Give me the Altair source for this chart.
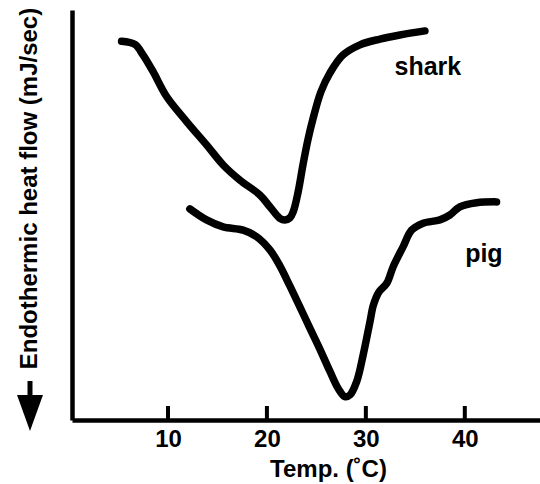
import altair as alt
import pandas as pd

# Shark DSC trace (temperature °C, relative endothermic heat flow)
shark_temp = [5.31, 6.66, 7.49, 8.51, 9.86, 11.88, 13.90, 15.58, 17.27, 19.29, 20.30,
              21.31, 21.82, 22.32, 22.66, 23.16, 23.64, 24.14, 24.65, 25.45, 26.36,
              27.68, 29.40, 31.42, 33.44, 35.97]
shark_flow = [92.4, 91.6, 89.0, 84.9, 78.9, 72.8, 67.1, 62.2, 58.5, 54.9, 52.0,
              49.2, 48.8, 49.3, 50.8, 55.7, 62.2, 68.3, 73.4, 80.0, 84.6,
              89.0, 91.5, 92.9, 93.9, 94.9]

# Pig DSC trace
pig_temp = [12.21, 13.90, 15.58, 17.60, 18.96, 20.30, 21.31, 22.32, 23.33, 24.34,
            25.35, 26.36, 27.20, 27.88, 28.39, 29.06, 29.73, 30.41, 30.76, 31.32,
            32.13, 32.76, 33.77, 34.62, 35.79, 37.48, 38.49, 39.50, 41.19, 43.21]
pig_flow = [51.5, 48.8, 47.1, 46.3, 44.7, 41.5, 37.6, 32.7, 27.6, 22.4,
            17.3, 11.9, 7.7, 5.7, 6.1, 9.3, 15.9, 23.9, 28.0, 31.2,
            33.4, 37.4, 42.3, 46.3, 48.0, 48.8, 50.0, 52.0, 53.0, 53.2]

label_names = ["shark", "pig"]
label_temp = [36.27, 41.93]
label_flow = [84.1, 38.5]

tick_values = [10, 20, 30, 40]

FONT = "Liberation Sans"

curves = pd.DataFrame({
    "temp": shark_temp + pig_temp,
    "flow": shark_flow + pig_flow,
    "series": ["shark"] * len(shark_temp) + ["pig"] * len(pig_temp),
    "order": list(range(len(shark_temp))) + list(range(len(pig_temp))),
})
labels = pd.DataFrame({"temp": label_temp, "flow": label_flow, "name": label_names})
ticks = pd.DataFrame({"temp": tick_values})

xscale = alt.Scale(domain=[0.3, 47.6], nice=False, zero=False)
yscale = alt.Scale(domain=[0, 100], nice=False, zero=False)

x_axis = alt.Axis(
    values=tick_values, format="d", grid=False, ticks=False, tickSize=0,
    domainColor="black", domainWidth=4.5,
    labelFont=FONT, labelFontSize=24, labelFontWeight="bold", labelColor="black",
    labelPadding=7,
    title="Temp. (˚C)", titleFont=FONT, titleFontSize=24, titleFontWeight="bold",
    titleColor="black", titleX=256, titleY=56, titleBaseline="alphabetic",
)
y_axis = alt.Axis(
    labels=False, ticks=False, grid=False, domainColor="black", domainWidth=4.5,
    title="Endothermic heat flow (mJ/sec)", titleFont=FONT, titleFontSize=24,
    titleFontWeight="bold", titleColor="black", titleAngle=270,
    titleX=-35.5, titleY=178, titleBaseline="alphabetic", titleAlign="center",
)

lines = alt.Chart(curves).mark_line(
    color="black", strokeWidth=7.5, strokeCap="round", strokeJoin="round",
    interpolate="catmull-rom",
).encode(
    x=alt.X("temp:Q", scale=xscale, axis=x_axis),
    y=alt.Y("flow:Q", scale=yscale, axis=y_axis),
    detail="series:N",
    order="order:Q",
)

tick_marks = alt.Chart(ticks).mark_rule(color="black", strokeWidth=4).encode(
    x=alt.X("temp:Q", scale=xscale),
    y=alt.value(396),
    y2=alt.value(410),
)

text = alt.Chart(labels).mark_text(
    font=FONT, fontSize=25, fontWeight="bold", color="black",
    align="center", baseline="alphabetic",
).encode(
    x=alt.X("temp:Q", scale=xscale),
    y=alt.Y("flow:Q", scale=yscale),
    text="name:N",
)

arrow_shaft = alt.Chart(pd.DataFrame({"a": [0]})).mark_rule(
    color="black", strokeWidth=5
).encode(x=alt.value(-42), y=alt.value(371), y2=alt.value(388))

arrow_head = alt.Chart(pd.DataFrame({"a": [0]})).mark_point(
    shape="M-0.72,-1L0.72,-1L0,1Z", filled=True, color="black", opacity=1, size=1296,
).encode(x=alt.value(-42), y=alt.value(403))

chart = alt.layer(lines, tick_marks, text, arrow_shaft, arrow_head).properties(
    width=468, height=410,
    padding={"left": 72, "top": 10, "right": 0, "bottom": 64},
    autosize=alt.AutoSizeParams(type="none"),
    background="white",
).configure_view(stroke=None)

chart.save("out.html", embed_options={"renderer": "svg", "actions": False})
